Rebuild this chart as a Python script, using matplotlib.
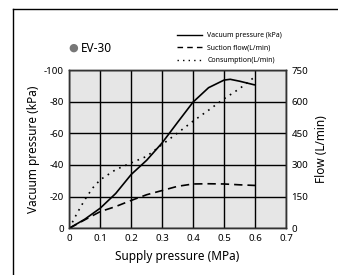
import matplotlib.pyplot as plt
from matplotlib.lines import Line2D

plt.rcParams['font.family'] = ['Noto Sans', 'DejaVu Sans']
plt.rcParams['axes.unicode_minus'] = False

# supply pressure (MPa)
supply = [0, 0.05, 0.1, 0.15, 0.2, 0.25, 0.3, 0.35, 0.4, 0.45, 0.5, 0.52, 0.55, 0.6]
vacuum = [0, -5.7, -12.7, -22, -34, -43, -54, -67, -79.8, -88.9, -93.7, -94.2, -93, -90.6]

flow_x = [0, 0.05, 0.1, 0.15, 0.2, 0.25, 0.3, 0.35, 0.4, 0.45, 0.5, 0.55, 0.6]
suction = [0, 40, 79, 103, 132, 159, 179, 199, 210, 211, 210, 206, 203]

cons_x = [0, 0.025, 0.05, 0.075, 0.1, 0.15, 0.2, 0.25, 0.3, 0.35, 0.4, 0.45, 0.5, 0.55, 0.6]
consumption = [0, 71, 135, 190, 230, 278, 310, 341, 397, 452, 508, 560, 614, 662, 719]

x_ticks = [0, 0.1, 0.2, 0.3, 0.4, 0.5, 0.6, 0.7]
left_ticks = [0, -20, -40, -60, -80, -100]
right_ticks = [0, 150, 300, 450, 600, 750]

fig = plt.figure(figsize=(3.38, 2.75), dpi=100)
ax = fig.add_axes([0.205, 0.170, 0.641, 0.575])
ax.set_facecolor('#e6e6e6')
ax2 = ax.twinx()

ax.plot(supply, vacuum, color='black', lw=1.2, solid_capstyle='butt')
ax2.plot(flow_x, suction, color='black', lw=1.2, ls=(0, (5, 3)))
ax2.plot(cons_x, consumption, color='black', lw=1.2, ls=(0, (1, 3)))

ax.set_xlim(0, 0.7)
ax.set_ylim(0, -100)
ax2.set_ylim(0, 750)
ax.set_xticks(x_ticks)
ax.set_xticklabels(['0' if t == 0 else f'{t:.1f}' for t in x_ticks])
ax.set_yticks(left_ticks)
ax2.set_yticks(right_ticks)
ax.grid(True, color='black', lw=1)
ax.set_axisbelow(True)

for a in (ax, ax2):
    a.tick_params(length=0, labelsize=7, pad=4)
    for s in a.spines.values():
        s.set_color('#333333')
        s.set_linewidth(1)

ax.set_xlabel('Supply pressure (MPa)', fontsize=8.5, labelpad=5)
ax.set_ylabel('Vacuum pressure (kPa)', fontsize=8.5, labelpad=3)
ax2.set_ylabel('Flow (L/min)', fontsize=8.5, labelpad=5)

handles = [Line2D([], [], color='black', lw=1),
           Line2D([], [], color='black', lw=1, ls=(0, (4, 3))),
           Line2D([], [], color='black', lw=1, ls=(0, (1, 3)))]
labels = ['Vacuum pressure (kPa)', 'Suction flow(L/min)', 'Consumption(L/min)']
fig.legend(handles, labels, loc='upper left', bbox_to_anchor=(0.515, 0.893),
           frameon=False, fontsize=5, handlelength=3.6, handletextpad=0.8,
           labelspacing=0.8, borderaxespad=0)

# title marker and name
fig.text(0.216, 0.825, '\u25cf', fontsize=8, color='#777777', va='center', ha='center')
fig.text(0.238, 0.825, 'EV-30', fontsize=8.5, va='center', ha='left')

# outer frame (top and left edges only)
fig.add_artist(Line2D([0.0385, 0.0385], [0, 0.967], color='black', lw=1, transform=fig.transFigure))
fig.add_artist(Line2D([0.0385, 1], [0.967, 0.967], color='black', lw=1, transform=fig.transFigure))

fig.savefig('out.png', dpi=100)
